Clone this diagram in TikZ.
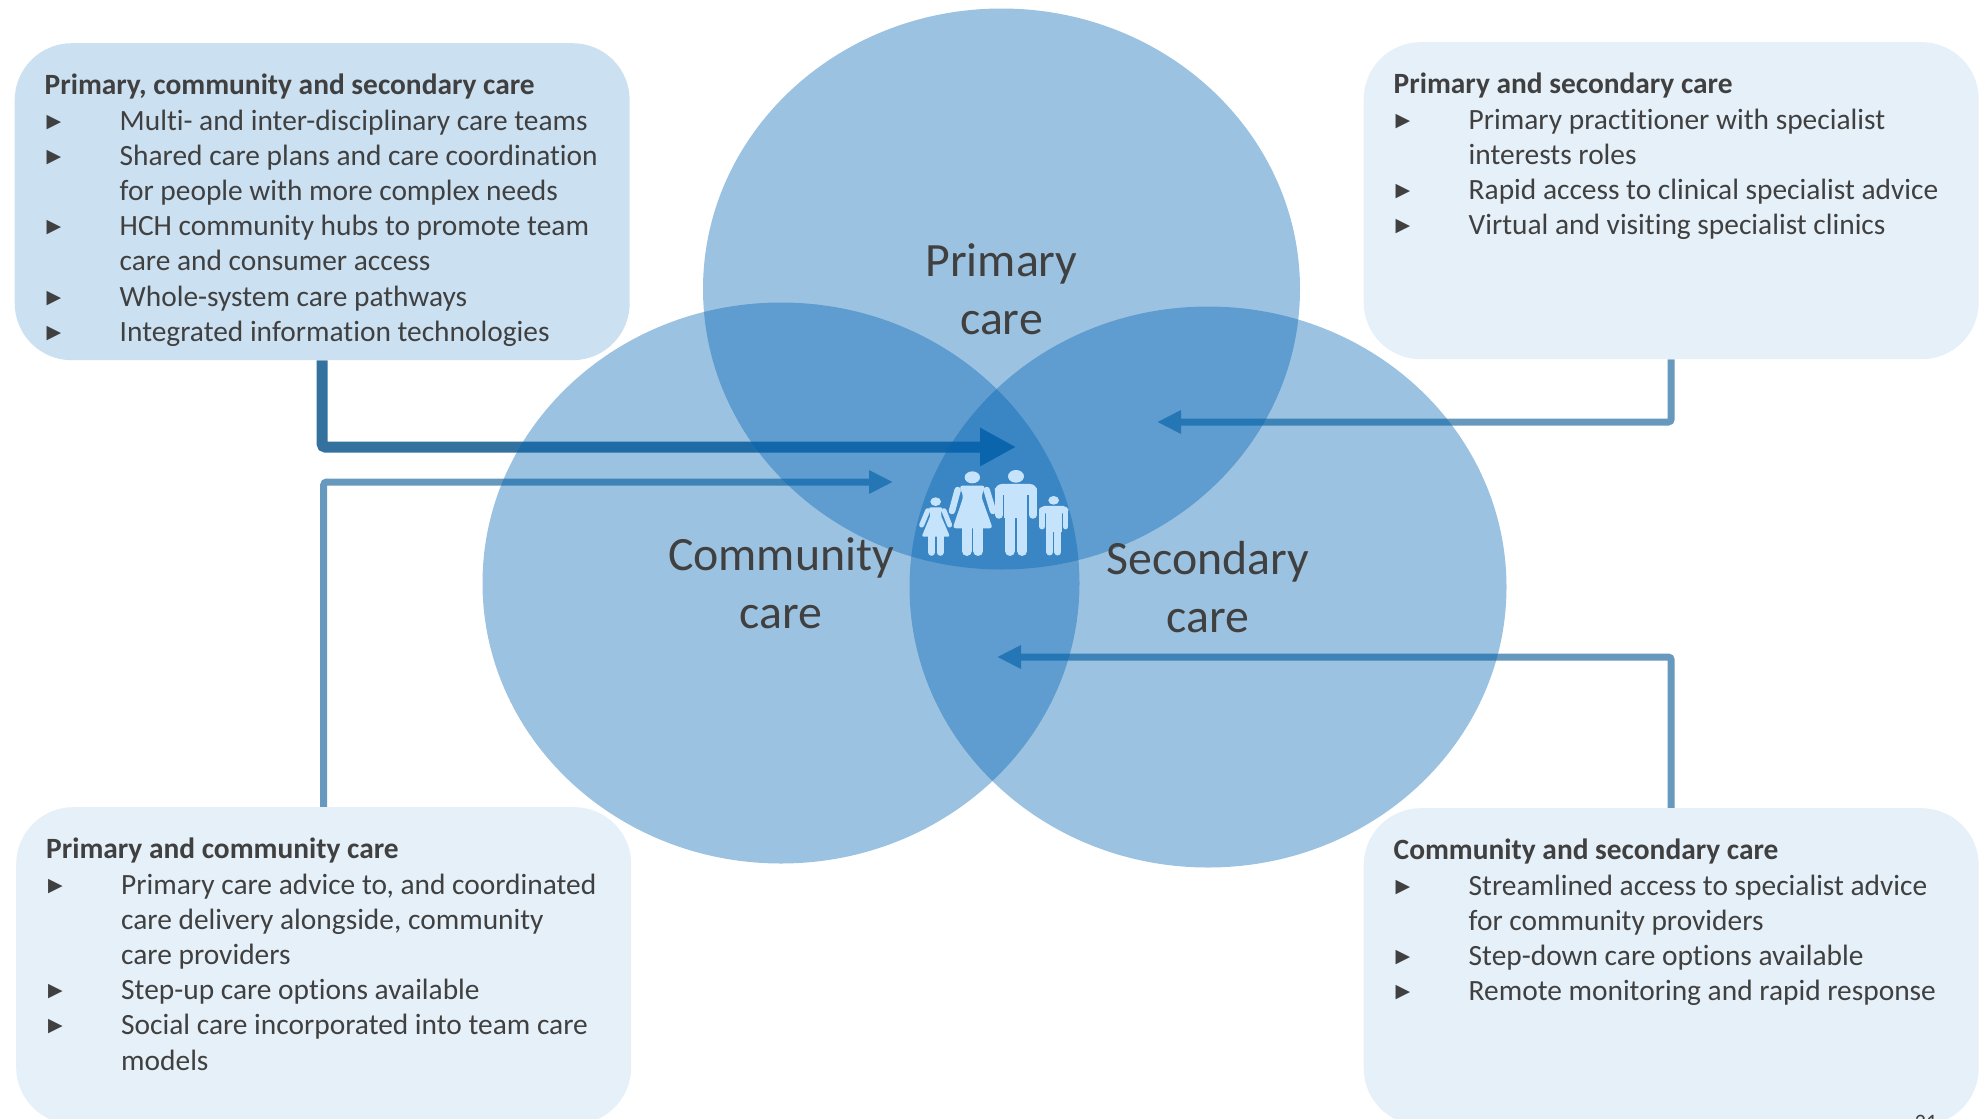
\documentclass[tikz,border=0pt]{standalone}
\usepackage{fontspec}
\setmainfont[Ligatures=NoCommon]{Carlito}
\newfontfamily\symfont{DejaVu Sans}
\usetikzlibrary{shapes.geometric,arrows.meta}
\pgfdeclarelayer{backlayer}
\pgfdeclarelayer{midlayer}
\pgfsetlayers{backlayer,midlayer,main}
\definecolor{ink}{HTML}{404040}
\definecolor{venn}{HTML}{0062B2}
\definecolor{boxdark}{HTML}{CBE0F0}
\definecolor{boxlight}{HTML}{E5F0F8}
\definecolor{arrdark}{HTML}{33719F}
\definecolor{arrlight}{HTML}{6699BD}
\definecolor{fam}{HTML}{C5E4FB}
\newcommand{\bxitem}[1]{\hangindent=75pt\hangafter=1\makebox[75pt][l]{\hspace{2pt}\raisebox{3pt}{\symfont\fontsize{19}{19}\selectfont\char"25B6}}#1\par}
\newcommand{\bxbody}[2]{\parbox[c][317pt][t]{555pt}{\vspace*{31pt}\parindent=0pt\fontsize{29.4}{35.2}\selectfont\textbf{#1}\par #2}}
\tikzset{
  infobox/.style={anchor=north west,rounded corners=57pt,minimum width=615pt,minimum height=317pt,inner xsep=30pt,inner ysep=0pt,text=ink,align=left},
  vennset/.style={ellipse,fill=venn,fill opacity=.39,inner sep=0pt,minimum width=597pt,minimum height=561pt},
  vennlabel/.style={text=ink,align=center,font=\fontsize{47.8}{58}\selectfont},
  arrbig/.style={draw=arrdark,line width=11pt,rounded corners=3pt,-{Triangle[length=36pt,width=36pt]}},
  arrsmall/.style={draw=arrlight,line width=7pt,rounded corners=3pt,-{Triangle[length=24pt,width=22pt]}},
  famfill/.style={fill=fam,draw=none},
  famlimb/.style={draw=fam,line cap=round}
}
\begin{document}
\begin{tikzpicture}[x=1pt,y=-1pt]
\useasboundingbox (0,0) rectangle (1987,1119);
% boxes
\node[infobox,fill=boxdark] (tl) at (14.5,43) {\bxbody{Primary, community and secondary care}{%
\bxitem{Multi- and inter-disciplinary care teams}
\bxitem{Shared care plans and care coordination\\for people with more complex needs}
\bxitem{HCH community hubs to promote team\\care and consumer access}
\bxitem{Whole-system care pathways}
\bxitem{Integrated information technologies}}};
\node[infobox,fill=boxlight] (tr) at (1363.5,42) {\bxbody{Primary and secondary care}{%
\bxitem{Primary practitioner with specialist\\interests roles}
\bxitem{Rapid access to clinical specialist advice}
\bxitem{Virtual and visiting specialist clinics}}};
\node[infobox,fill=boxlight] (bl) at (16,807) {\bxbody{Primary and community care}{%
\bxitem{Primary care advice to, and coordinated\\care delivery alongside, community\\care providers}
\bxitem{Step-up care options available}
\bxitem{Social care incorporated into team care\\models}}};
\node[infobox,fill=boxlight] (br) at (1363.5,808) {\bxbody{Community and secondary care}{%
\bxitem{Streamlined access to specialist advice\\for community providers}
\bxitem{Step-down care options available}
\bxitem{Remote monitoring and rapid response}}};
% venn
\begin{pgfonlayer}{midlayer}
\node[vennset] (primary) at (1001.5,289) {};
\node[vennset] (community) at (781,583) {};
\node[vennset] (secondary) at (1208,587) {};
\end{pgfonlayer}
\node[vennlabel] (primarylabel) at (primary.center) {Primary\\care};
\node[vennlabel] (communitylabel) at (community.center) {Community\\care};
\node[vennlabel] (secondarylabel) at (secondary.center) {Secondary\\care};
% connectors
\coordinate (tiptl) at (1016,447);
\coordinate (tipbl) at (893,482);
\coordinate (tiptr) at (1157,422);
\coordinate (tipbr) at (997,657);
\begin{pgfonlayer}{backlayer}
\draw[arrbig] (tl.south) |- (tiptl);
\draw[arrsmall] (bl.north) |- (tipbl);
\draw[arrsmall] (tr.south) |- (tiptr);
\draw[arrsmall] (br.north) |- (tipbr);
\end{pgfonlayer}
% family icon
\begin{scope}[shift={(880,400)},x=.3333pt,y=-.3333pt]
% woman
\fill[famfill] (277,232) ellipse [x radius=23,y radius=18];
\fill[famfill,rounded corners=3pt] (238,257) -- (316,257) -- (304,290) -- (338,385) -- (218,385) -- (250,290) -- cycle;
\draw[famlimb,line width=6.5pt] (233,270) -- (216,333);
\draw[famlimb,line width=6.5pt] (320,270) -- (339,333);
\draw[famlimb,line width=10pt] (260,385) -- (260,453);
\draw[famlimb,line width=10pt] (295,385) -- (295,453);
% man
\fill[famfill] (408,229) ellipse [x radius=24,y radius=19];
\fill[famfill,rounded corners=7pt] (345,252) rectangle (471,285);
\fill[famfill] (373,262) rectangle (442,355);
\draw[famlimb,line width=7.5pt] (357,270) -- (357,345);
\draw[famlimb,line width=7.5pt] (459,270) -- (459,345);
\draw[famlimb,line width=10pt] (390,352) -- (390,453);
\draw[famlimb,line width=10pt] (427,352) -- (427,453);
% girl
\fill[famfill] (167,305) ellipse [x radius=16,y radius=13];
\fill[famfill,rounded corners=2pt] (146,322) -- (188,322) -- (182,345) -- (210,410) -- (125,410) -- (152,345) -- cycle;
\draw[famlimb,line width=5pt] (143,332) -- (125,375);
\draw[famlimb,line width=5pt] (192,332) -- (209,375);
\draw[famlimb,line width=7pt] (155,410) -- (155,457);
\draw[famlimb,line width=7pt] (180,410) -- (180,457);
% boy
\fill[famfill] (521,301) ellipse [x radius=16,y radius=13];
\fill[famfill,rounded corners=5pt] (478,318) rectangle (565,340);
\fill[famfill] (498,325) rectangle (545,395);
\draw[famlimb,line width=5.4pt] (486,330) -- (486,380);
\draw[famlimb,line width=5.4pt] (557,330) -- (557,380);
\draw[famlimb,line width=7pt] (509,392) -- (509,456);
\draw[famlimb,line width=7pt] (534,392) -- (534,456);
\end{scope}
\node[anchor=base,text=ink,font=\fontsize{22}{22}\selectfont,inner sep=0pt] (pagenum) at (1926,1129) {21};
\end{tikzpicture}
\end{document}
